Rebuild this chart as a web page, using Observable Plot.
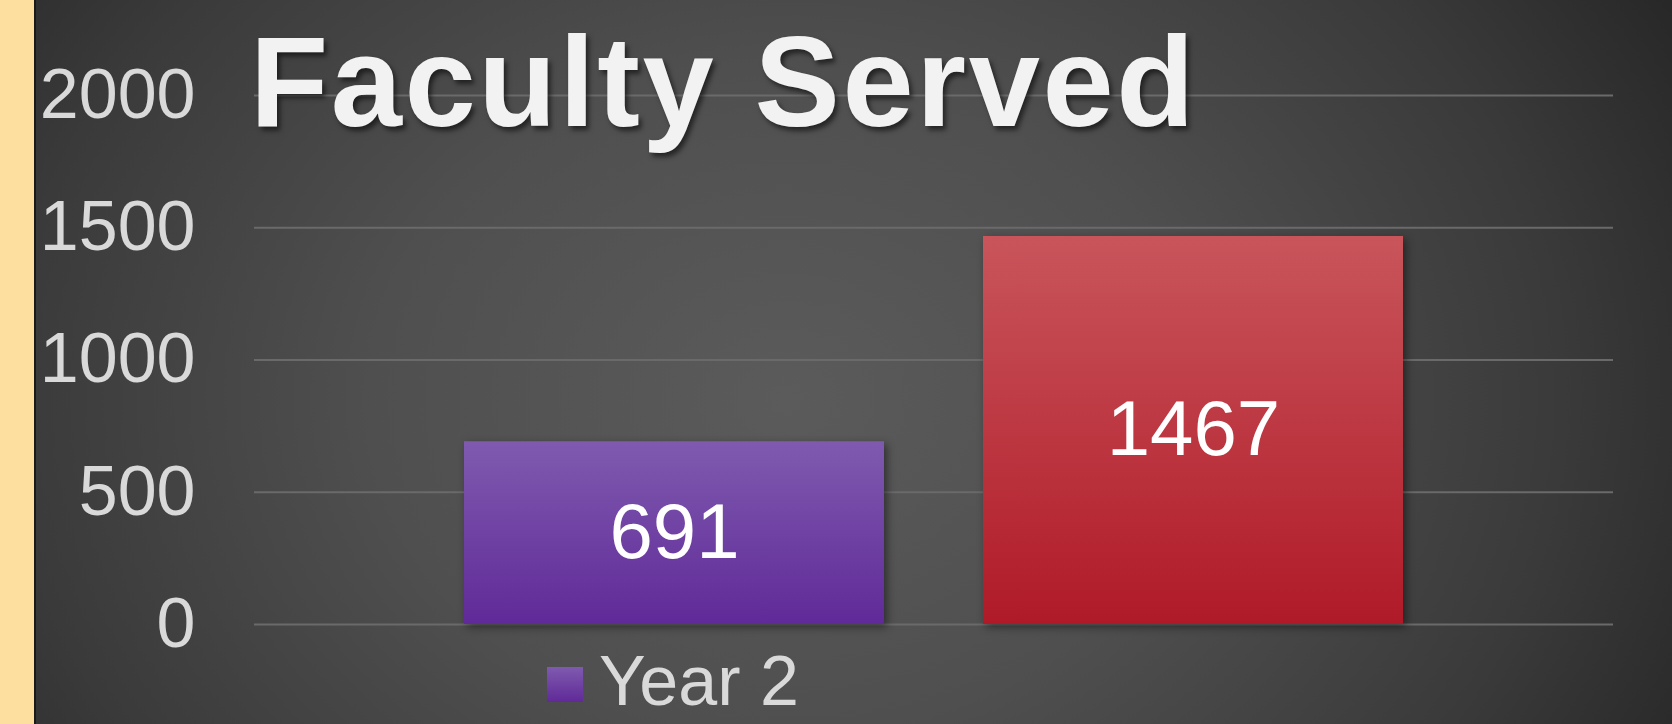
<!DOCTYPE html>
<html>
<head>
<meta charset="utf-8">
<script src="https://cdn.jsdelivr.net/npm/d3@7"></script>
<script src="https://cdn.jsdelivr.net/npm/@observablehq/plot@0.6"></script>
<style>
  html, body { margin: 0; padding: 0; }
  body { width: 1672px; height: 724px; overflow: hidden; background: #2a2a2a; font-family: "Liberation Sans", Arial, sans-serif; }
  #wrap { position: relative; width: 1672px; height: 724px; overflow: hidden;
    background: radial-gradient(ellipse 62% 115% at 47% 55%, #5b5b5b 0%, #4f4f4f 40%, #3a3a3a 75%, #262626 100%); }
  #strip { position: absolute; left: 0; top: 0; width: 34px; height: 724px; background: #fde09f; border-right: 2px solid #1a1a1a; }
  #chart { position: absolute; left: 0; top: 0; }
  #title { position: absolute; left: 250px; top: 18px; margin: 0; font-size: 128px; line-height: 128px; font-weight: bold;
    color: #f2f2f2; letter-spacing: 2.6px; white-space: nowrap; text-shadow: 3px 4px 5px rgba(0,0,0,0.55); }
  #legend { position: absolute; left: 547px; top: 646px; height: 70px; display: flex; align-items: center; white-space: nowrap; }
  #legend .sw { width: 36px; height: 35px; background: linear-gradient(#7f5aaf, #602a98); margin-right: 16px; margin-top: 6px; }
  #legend .lb { font-size: 70px; line-height: 70px; color: #d9d9d9; }
  .bars rect { filter: drop-shadow(3px 3px 4px rgba(0,0,0,0.45)); }
</style>
</head>
<body>
<div id="wrap">
  <div id="strip"></div>
  <div id="chart"></div>
  <div id="title">Faculty Served</div>
  <div id="legend"><div class="sw"></div><div class="lb">Year 2</div></div>
</div>
<script>
const series = ["Year 2", "Year 3"];
const values = [691, 1467];
const yTicks = [0, 500, 1000, 1500, 2000];
const legendLabels = ["Year 2"];

const data = series.map((s, i) => ({series: s, value: values[i]}));

const plot = Plot.plot({
  width: 1672,
  height: 724,
  marginLeft: 254,
  marginRight: 59,
  marginTop: 95,
  marginBottom: 100,
  style: {background: "transparent", color: "#d9d9d9", fontFamily: "'Liberation Sans', Arial, sans-serif"},
  x: {domain: series, paddingInner: 0.19, paddingOuter: 0.402, axis: null},
  y: {domain: [0, 2000], axis: null},
  color: {domain: series, range: ["url(#gPurple)", "url(#gRed)"]},
  marks: [
    Plot.gridY(yTicks, {stroke: "#6a6a6a", strokeOpacity: 1, strokeWidth: 2}),
    Plot.axisY(yTicks, {tickSize: 0, tickPadding: 59, fontSize: 70, fill: "#d9d9d9", label: null, tickFormat: d => String(d)}),
    Plot.barY(data, {x: "series", y: "value", fill: "series", className: "bars"}),
    Plot.text(data, {x: "series", y: d => d.value / 2, text: d => String(d.value), fill: "white", fontSize: 78})
  ]
});

const defs = d3.select(plot).insert("defs", ":first-child");
function grad(id, top, bottom) {
  const g = defs.append("linearGradient").attr("id", id).attr("x1", 0).attr("y1", 0).attr("x2", 0).attr("y2", 1);
  g.append("stop").attr("offset", "0%").attr("stop-color", top);
  g.append("stop").attr("offset", "100%").attr("stop-color", bottom);
}
grad("gPurple", "#7f5aaf", "#602a98");
grad("gRed", "#c9555b", "#b01a28");

document.getElementById("chart").appendChild(plot);
</script>
</body>
</html>
